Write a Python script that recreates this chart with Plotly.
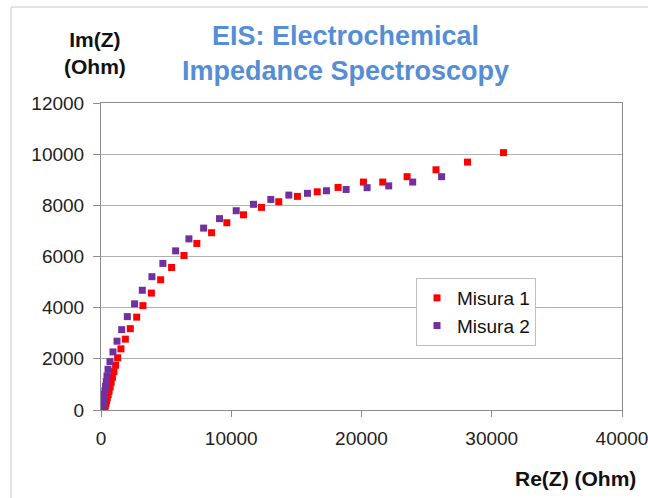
import plotly.graph_objects as go

# Misura 1 (red)
re_1 = [270, 290, 330, 380, 430, 480, 550, 620, 700, 780, 880, 990, 1120, 1280, 1530, 1870,
        2250, 2740, 3220, 3870, 4580, 5420, 6370, 7360, 8490, 9660, 10940, 12320, 13650,
        15080, 16600, 18200, 20150, 21630, 23500, 25720, 28140, 30900]
im_1 = [30, 90, 170, 260, 360, 470, 600, 740, 900, 1080, 1280, 1500, 1750, 2040, 2390, 2770,
        3180, 3630, 4080, 4570, 5090, 5570, 6040, 6510, 6930, 7320, 7630, 7920, 8140,
        8350, 8530, 8700, 8910, 8910, 9120, 9390, 9690, 10060]

# Misura 2 (purple)
re_2 = [100, 120, 130, 150, 170, 200, 230, 260, 300, 350, 400, 460, 540, 690, 920, 1230,
        1590, 2020, 2580, 3170, 3910, 4750, 5730, 6750, 7880, 9100, 10380, 11710, 13040,
        14420, 15850, 17310, 18820, 20430, 22090, 23930, 26150]
im_2 = [40, 90, 150, 220, 300, 390, 500, 620, 760, 920, 1110, 1330, 1590, 1890, 2270, 2690,
        3140, 3650, 4150, 4680, 5210, 5730, 6220, 6690, 7110, 7480, 7790, 8040, 8230,
        8400, 8470, 8570, 8620, 8690, 8760, 8910, 9120]

x_ticks = [0, 10000, 20000, 30000, 40000]
y_ticks = [0, 2000, 4000, 6000, 8000, 10000, 12000]

FONT = "Liberation Sans, Arial, sans-serif"

fig = go.Figure()
fig.add_trace(go.Scatter(x=re_1, y=im_1, mode="markers", name="Misura 1",
                         marker=dict(symbol="square", size=7, color="#FF0000",
                                     line=dict(width=0))))
fig.add_trace(go.Scatter(x=re_2, y=im_2, mode="markers", name="Misura 2",
                         marker=dict(symbol="square", size=7, color="#7030A0",
                                     line=dict(width=0))))

W, H = 648, 498
L, R, T, B = 101, 26, 103, 88
pw, ph = W - L - R, H - T - B

def px(xp):
    return (xp - L) / pw

def py(yp):
    return (H - B - yp) / ph

fig.update_layout(
    width=W, height=H, autosize=False,
    margin=dict(l=L, r=R, t=T, b=B, pad=0, autoexpand=False),
    paper_bgcolor="white", plot_bgcolor="white",
    font=dict(family=FONT, size=19, color="#222222"),
    showlegend=True,
    legend=dict(x=px(416), y=py(278), xanchor="left", yanchor="top",
                bordercolor="#BFBFBF", borderwidth=1, bgcolor="white",
                font=dict(family=FONT, size=19, color="#111111"),
                itemsizing="trace", itemwidth=30, tracegroupgap=0),
    xaxis=dict(range=[0, 40000], tickvals=x_ticks, ticktext=[str(v) for v in x_ticks],
               showgrid=False, zeroline=False, showline=True, mirror=True,
               automargin=False,
               linecolor="#8C8C8C", linewidth=1, ticks="outside", ticklen=6,
               tickcolor="#8C8C8C", ticklabeloverflow="allow", ticklabelstandoff=5,
               tickfont=dict(family=FONT, size=19, color="#222222")),
    yaxis=dict(range=[0, 12000], tickvals=y_ticks, ticktext=[str(v) for v in y_ticks],
               showgrid=True, gridcolor="#B0B0B0", gridwidth=1, zeroline=False,
               showline=True, mirror=True, linecolor="#8C8C8C", linewidth=1,
               automargin=False,
               ticks="outside", ticklen=7, tickcolor="#8C8C8C",
               ticklabeloverflow="allow", ticklabelstandoff=5,
               tickfont=dict(family=FONT, size=19, color="#222222")),
    annotations=[
        dict(text="<b>EIS: Electrochemical<br>Impedance Spectroscopy</b>",
             xref="paper", yref="paper", x=px(345.5), y=py(53.5),
             xanchor="center", yanchor="middle", showarrow=False,
             font=dict(family=FONT, size=27, color="#558ED5")),
        dict(text="<b>Im(Z)<br>(Ohm)</b>", xref="paper", yref="paper",
             x=px(95), y=py(53.5), xanchor="center", yanchor="middle",
             showarrow=False, font=dict(family=FONT, size=21, color="#111111")),
        dict(text="<b>Re(Z) (Ohm)</b>", xref="paper", yref="paper",
             x=px(638), y=py(478), xanchor="right", yanchor="middle",
             showarrow=False, font=dict(family=FONT, size=21, color="#111111")),
    ],
    shapes=[
        dict(type="line", xref="paper", yref="paper", x0=px(11), x1=px(11),
             y0=py(7), y1=py(H), line=dict(color="#C8C8C8", width=1)),
        dict(type="line", xref="paper", yref="paper", x0=px(11), x1=px(W),
             y0=py(7), y1=py(7), line=dict(color="#C8C8C8", width=1)),
    ],
)

fig.write_html("out.html", config={"displayModeBar": False},
               post_script="document.body.style.margin='0px';")
